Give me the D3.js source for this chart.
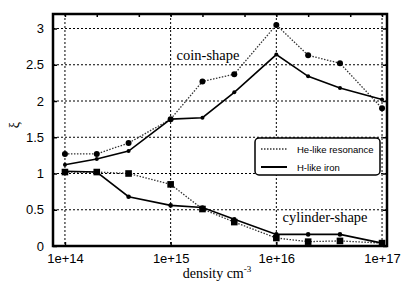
<!DOCTYPE html>
<html>
<head>
<meta charset="utf-8">
<script src="https://cdn.jsdelivr.net/npm/d3@7"></script>
<style>
body { margin: 0; background: #fff; }
svg { display: block; }
</style>
</head>
<body>
<div id="chart"></div>
<script>
// densities and the four curves
var density = [1e14, 2e14, 4e14, 1e15, 2e15, 4e15, 1e16, 2e16, 4e16, 1e17]
var coinHe = [1.27, 1.27, 1.42, 1.75, 2.27, 2.37, 3.05, 2.63, 2.52, 1.90]
var coinH = [1.12, 1.20, 1.31, 1.75, 1.77, 2.12, 2.64, 2.34, 2.18, 2.02]
var cylHe = [1.02, 1.02, 1.00, 0.85, 0.51, 0.33, 0.11, 0.06, 0.07, 0.04]
var cylH = [1.03, 1.02, 0.68, 0.56, 0.53, 0.37, 0.16, 0.16, 0.16, 0.04]
var xTicks = [1e14, 1e15, 1e16, 1e17]
var xTopTicks = [1e14, 2e14, 5e14, 1e15, 2e15, 5e15, 1e16, 2e16, 5e16, 1e17]
var yTicks = [0, 0.5, 1, 1.5, 2, 2.5, 3]
var legendLabels = ["He-like resonance", "H-like iron"]

var svgSize = { width: 409, height: 284 }
var margin = { top: 14, bottom: 38, left: 53, right: 22 }
var chartSize = {
    width: svgSize.width - margin.left - margin.right,
    height: svgSize.height - margin.top - margin.bottom
}

var svg = d3.select("#chart").append("svg")
    .attr("width", svgSize.width)
    .attr("height", svgSize.height)
var frame = svg.append("g")
    .attr("transform", `translate(${margin.left}, ${margin.top})`)

var xScale = d3.scaleLog()
    .domain([Math.pow(10, 13.887), Math.pow(10, 17.047)])
    .range([0, chartSize.width])
var yScale = d3.scaleLinear()
    .domain([0, 3.2])
    .range([chartSize.height, 0])

// dotted grid
var grid = frame.append("g")
grid.selectAll("line.gy").data(yTicks.slice(1)).enter().append("line")
    .attr("x1", 0).attr("x2", chartSize.width)
    .attr("y1", d => yScale(d)).attr("y2", d => yScale(d))
    .attr("stroke", "#000").attr("stroke-width", 1).attr("stroke-dasharray", "2,2")
grid.selectAll("line.gx").data(xTicks).enter().append("line")
    .attr("x1", d => xScale(d)).attr("x2", d => xScale(d))
    .attr("y1", 0).attr("y2", chartSize.height)
    .attr("stroke", "#000").attr("stroke-width", 1).attr("stroke-dasharray", "2,2")

// axes
var bottomAxis = d3.axisBottom(xScale).tickValues(xTicks)
    .tickFormat(d => "1e+" + Math.round(Math.log10(d))).tickSizeInner(-4).tickSizeOuter(0).tickPadding(8)
var leftAxis = d3.axisLeft(yScale).tickValues(yTicks)
    .tickFormat(d3.format("")).tickSizeInner(-4).tickSizeOuter(0).tickPadding(9)
var topAxis = d3.axisTop(xScale).tickValues(xTopTicks).tickFormat("").tickSizeInner(-3).tickSizeOuter(0)
var rightAxis = d3.axisRight(yScale).tickValues(yTicks).tickFormat("").tickSizeInner(-4).tickSizeOuter(0)

frame.append("g").attr("transform", `translate(0, ${chartSize.height})`).call(bottomAxis)
frame.append("g").call(leftAxis)
frame.append("g").call(topAxis)
frame.append("g").attr("transform", `translate(${chartSize.width}, 0)`).call(rightAxis)
frame.selectAll(".domain").remove()
frame.selectAll(".tick line").attr("stroke", "#000").attr("stroke-width", 1.5)
frame.selectAll(".tick text")
    .attr("font-family", "Liberation Sans, Arial, sans-serif")
    .attr("font-size", 13).attr("fill", "#000")

frame.append("rect")
    .attr("width", chartSize.width).attr("height", chartSize.height)
    .attr("fill", "none").attr("stroke", "#000").attr("stroke-width", 2.5)

// curves
var line = d3.line()
    .x((v, i) => xScale(density[i]))
    .y(v => yScale(v))

var series = [
    { vals: coinHe, dotted: true, marker: "circle", size: 3 },
    { vals: coinH, dotted: false, marker: "circle", size: 2 },
    { vals: cylHe, dotted: true, marker: "square", size: 3.3 },
    { vals: cylH, dotted: false, marker: "circle", size: 2.3 }
]

series.forEach(s => {
    frame.append("path")
        .attr("d", line(s.vals))
        .attr("fill", "none")
        .attr("stroke", s.dotted ? "#333" : "#000")
        .attr("stroke-width", s.dotted ? 1.3 : 1.6)
        .attr("stroke-dasharray", s.dotted ? "1.5,1.5" : null)
    var g = frame.append("g")
    if (s.marker == "circle") {
        g.selectAll("circle").data(s.vals).enter().append("circle")
            .attr("cx", (v, i) => xScale(density[i]))
            .attr("cy", v => yScale(v))
            .attr("r", s.size)
            .attr("fill", "#000")
    } else {
        g.selectAll("rect").data(s.vals).enter().append("rect")
            .attr("x", (v, i) => xScale(density[i]) - s.size)
            .attr("y", v => yScale(v) - s.size)
            .attr("width", s.size * 2).attr("height", s.size * 2)
            .attr("fill", "#000")
    }
})

// annotations
var serif = "Liberation Serif, Times New Roman, serif"
svg.append("text").attr("x", 208).attr("y", 60).attr("text-anchor", "middle")
    .attr("font-family", serif).attr("font-size", 14.5).text("coin-shape")
svg.append("text").attr("x", 325).attr("y", 222).attr("text-anchor", "middle")
    .attr("font-family", serif).attr("font-size", 14.5).text("cylinder-shape")

// axis labels
var xl = svg.append("text").attr("x", 217).attr("y", 278).attr("text-anchor", "middle")
    .attr("font-family", serif).attr("font-size", 14)
xl.append("tspan").text("density cm")
xl.append("tspan").attr("dy", -6).attr("font-size", 9).text("-3")
svg.append("text").attr("transform", "translate(19, 125) rotate(-90)")
    .attr("text-anchor", "middle").attr("font-family", serif).attr("font-size", 14).text("ξ")

// legend
var legend = svg.append("g").attr("transform", "translate(255, 138)")
legend.append("rect").attr("width", 125).attr("height", 37).attr("rx", 4)
    .attr("fill", "#fff").attr("stroke", "#000").attr("stroke-width", 1.5)
legendLabels.forEach((label, i) => {
    var y = 11 + i * 18
    legend.append("line").attr("x1", 6).attr("x2", 32).attr("y1", y).attr("y2", y)
        .attr("stroke", i == 0 ? "#333" : "#000")
        .attr("stroke-width", i == 0 ? 1.3 : 2)
        .attr("stroke-dasharray", i == 0 ? "1.5,1.5" : null)
    legend.append("text").attr("x", 42).attr("y", y + 3.5)
        .attr("font-family", "Liberation Sans, Arial, sans-serif")
        .attr("font-size", 9.5).text(label)
})
</script>
</body>
</html>
